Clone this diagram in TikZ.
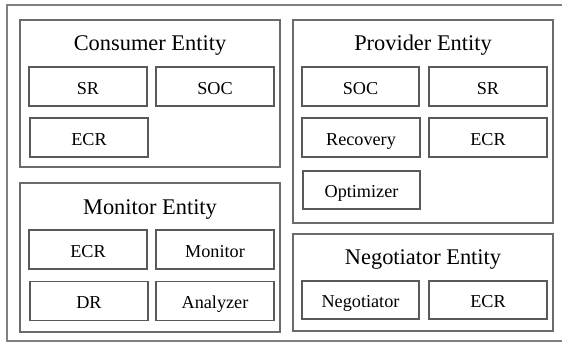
\documentclass[tikz,border=0pt]{standalone}
\usepackage{fontspec}
\setmainfont{Liberation Serif}
\begin{document}
\begin{tikzpicture}[x=1pt,y=-1pt,
  outerbox/.style={draw=black!50,line width=1.2pt},
  entitybox/.style={draw=black!58,line width=1.5pt},
  compbox/.style={draw=black!65,line width=1.2pt,minimum width=118pt,minimum height=39pt,inner sep=0pt,text height=15pt,text depth=0pt,font=\fontsize{18.2}{20}\selectfont},
  titlelabel/.style={inner sep=0pt,anchor=base,font=\fontsize{22.4}{26}\selectfont}]
\useasboundingbox (0,0) rectangle (562,343);
\draw[outerbox] (7,5) rectangle (566,341);
% containers
\node[entitybox,minimum width=260pt,minimum height=147pt,inner sep=0pt] (consumer) at (150,93.5) {};
\node[entitybox,minimum width=260pt,minimum height=149pt,inner sep=0pt] (monitor) at (150,257.5) {};
\node[entitybox,minimum width=260pt,minimum height=203pt,inner sep=0pt] (provider) at (423,121.5) {};
\node[entitybox,minimum width=260pt,minimum height=97pt,inner sep=0pt] (negotiator) at (423,282.5) {};
% titles
\node[titlelabel] (tcons) at (150,50) {Consumer Entity};
\node[titlelabel] (tprov) at (423,50) {Provider Entity};
\node[titlelabel] (tmon) at (150,214) {Monitor Entity};
\node[titlelabel] (tneg) at (423,264) {Negotiator Entity};
% consumer
\node[compbox] (csr) at (88,86.5) {SR};
\node[compbox] (csoc) at (215,86.5) {SOC};
\node[compbox] (cecr) at (89,137.5) {ECR};
% monitor
\node[compbox] (mecr) at (88,249.5) {ECR};
\node[compbox] (mmon) at (215,249.5) {Monitor};
\node[compbox] (mdr) at (89,301) {DR};
\node[compbox] (mana) at (215,301) {Analyzer};
% provider
\node[compbox,minimum width=117pt] (psoc) at (360.5,86.5) {SOC};
\node[compbox] (psr) at (488,86.5) {SR};
\node[compbox] (prec) at (361,137.5) {Recovery};
\node[compbox] (pecr) at (488,137.5) {ECR};
\node[compbox,minimum width=117pt,minimum height=38pt] (popt) at (361.5,190) {Optimizer};
% negotiator
\node[compbox,minimum width=117pt,minimum height=38pt] (nneg) at (360.5,300) {Negotiator};
\node[compbox,minimum height=38pt] (necr) at (488,300) {ECR};
\end{tikzpicture}
\end{document}
